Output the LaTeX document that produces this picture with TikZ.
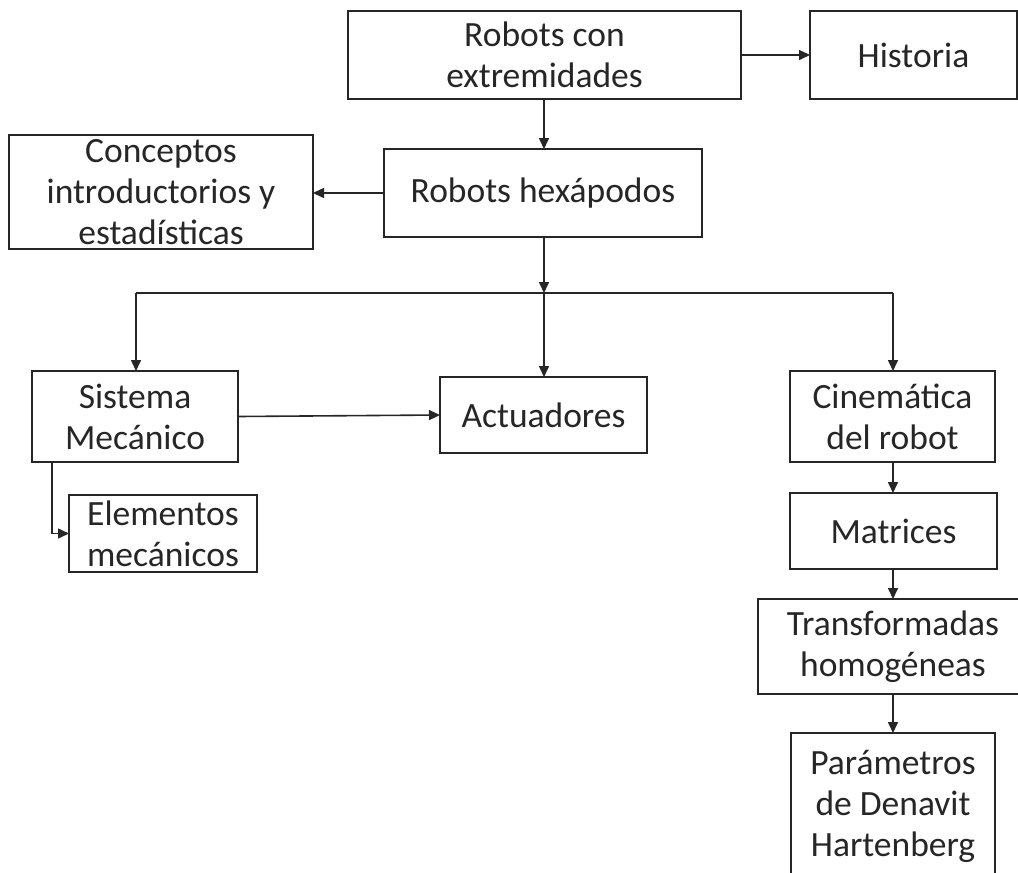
\documentclass[tikz,border=0pt]{standalone}
\usepackage{fontspec}
\setmainfont{Carlito}
\usetikzlibrary{arrows.meta}
\begin{document}
\begin{tikzpicture}[x=1pt,y=-1pt,
  box/.style={draw=black!85,line width=1.6pt,rectangle,inner sep=0pt,outer sep=0pt,align=center,
    font=\fontsize{35.5}{41}\selectfont,text=black!85},
  arr/.style={line width=1.6pt,draw=black!85,-{Triangle[length=11pt,width=10pt]}},
  ln/.style={line width=1.6pt,draw=black!85}]
\useasboundingbox (0,0) rectangle (1018,873);
\clip (0,0) rectangle (1018,873);
\node[box,minimum width=393pt,minimum height=88pt] (rce) at (544.5,55) {Robots con\\extremidades};
\node[box,minimum width=207pt,minimum height=88pt] (hist) at (913.5,55) {Historia};
\node[box,minimum width=304pt,minimum height=114pt] (conc) at (161,192) {Conceptos\\introductorios y\\estadísticas};
\node[box,minimum width=318pt,minimum height=88pt] (rh) at (543,193) {Robots hexápodos};
\node[box,minimum width=206pt,minimum height=91pt] (sm) at (135,416.5) {Sistema\\Mecánico};
\node[box,minimum width=207pt,minimum height=76pt] (act) at (543.5,415) {Actuadores};
\node[box,minimum width=205pt,minimum height=91pt] (cin) at (892.5,416.5) {Cinemática\\del robot};
\node[box,minimum width=188pt,minimum height=77pt] (elem) at (163,533.5) {Elementos\\mecánicos};
\node[box,minimum width=207pt,minimum height=76pt] (mat) at (893.5,531) {Matrices};
\node[box,minimum width=270pt,minimum height=95pt] (trans) at (893,646.5) {Transformadas\\homogéneas};
\node[box,minimum width=204pt,minimum height=146pt] (param) at (893,806) {Parámetros\\de Denavit\\Hartenberg};
\coordinate (bus) at (544,293);
\coordinate (busL) at (136,293);
\coordinate (busR) at (893,293);
\coordinate (smk) at (52,462);
\draw[arr] (rce.east) -- (rce.east -| hist.west);
\draw[arr] (bus |- rce.south) -- (bus |- rh.north);
\draw[arr] (rh.west) -- (rh.west -| conc.east);
\draw[arr] (bus |- rh.south) -- (bus);
\draw[ln] (busL) -- (busR);
\draw[arr] (busL) -- (busL |- sm.north);
\draw[arr] (bus) -- (bus |- act.north);
\draw[arr] (busR) -- (busR |- cin.north);
\draw[arr] (sm.east) -- (act.west);
\draw[arr] (smk) |- (elem.west);
\draw[arr] (busR |- cin.south) -- (busR |- mat.north);
\draw[arr] (busR |- mat.south) -- (busR |- trans.north);
\draw[arr] (busR |- trans.south) -- (busR |- param.north);
\end{tikzpicture}
\end{document}
